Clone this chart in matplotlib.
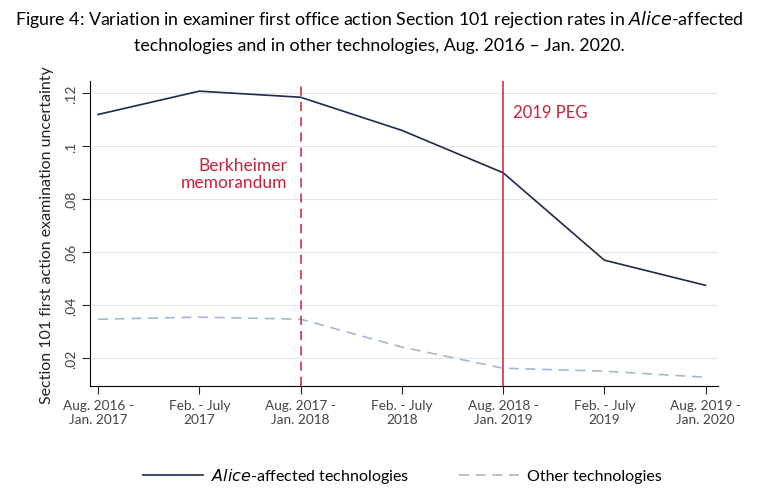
import matplotlib.pyplot as plt
from matplotlib.lines import Line2D

plt.rcParams['font.family'] = ['Lato', 'DejaVu Sans']

periods = ["Aug. 2016 -\nJan. 2017", "Feb. - July\n2017", "Aug. 2017 -\nJan. 2018",
           "Feb. - July\n2018", "Aug. 2018 -\nJan. 2019", "Feb. - July\n2019",
           "Aug. 2019 -\nJan. 2020"]
alice = [0.112, 0.1208, 0.1185, 0.106, 0.090, 0.057, 0.0475]
other = [0.0347, 0.0355, 0.0347, 0.0242, 0.0162, 0.0151, 0.0128]
yticks = [0.02, 0.04, 0.06, 0.08, 0.10, 0.12]
ylabels = [".02", ".04", ".06", ".08", ".1", ".12"]

navy = "#1c2b4b"
light = "#a3b8d4"
red = "#c8203a"

fig = plt.figure(figsize=(7.59, 4.89), dpi=100)
ax = fig.add_axes([0.1186, 0.2086, 0.827, 0.623])

x = list(range(len(periods)))
ax.plot(x, alice, color=navy, lw=1.2)
ax.plot(x, other, color=light, lw=1.2, ls=(0, (6, 4)))

ax.axvline(2, color=red, lw=1.1, ls=(0, (6, 4)))
ax.axvline(4, color=red, lw=1.1)
ax.text(1.87, 0.0833, "Berkheimer\nmemorandum", color=red, ha="right", va="bottom",
        fontsize=12.5, linespacing=1.1)
ax.text(4.1, 0.1128, "2019 PEG", color=red, ha="left", va="center", fontsize=12)

ax.set_xlim(-0.08, 6.12)
ax.set_ylim(0.0095, 0.1245)
ax.set_yticks(yticks)
ax.set_yticklabels(ylabels, rotation=90, va="center", color="#444444", fontsize=10)
ax.set_xticks(x)
ax.set_xticklabels(periods, fontsize=9.8, color="#444444")
ax.tick_params(axis="x", length=6, color="#222222")
ax.tick_params(axis="y", length=6, color="#222222")
ax.grid(axis="y", color="#e6e6e6", lw=0.8)
ax.set_axisbelow(True)
for s in ["top", "right"]:
    ax.spines[s].set_visible(False)
ax.set_ylabel("Section 101 first action examination uncertainty", fontsize=11.5,
              color="#222222", labelpad=8)

fig.text(0.5, 0.9356,
         "Figure 4: Variation in examiner first office action Section 101 rejection rates in $\\it{Alice}$-affected\n"
         "technologies and in other technologies, Aug. 2016 \u2013 Jan. 2020.",
         ha="center", va="center", fontsize=12.8, linespacing=1.65)

handles = [Line2D([], [], color=navy, lw=1.2),
           Line2D([], [], color=light, lw=1.2, ls=(0, (6, 4)))]
fig.legend(handles, ["$\\it{Alice}$-affected technologies", "Other technologies"],
           loc="center", bbox_to_anchor=(0.53, 0.025), ncol=2, frameon=False,
           fontsize=11.5, handlelength=3.75, handletextpad=0.5, columnspacing=3.1)

fig.savefig("out.png", dpi=100)
